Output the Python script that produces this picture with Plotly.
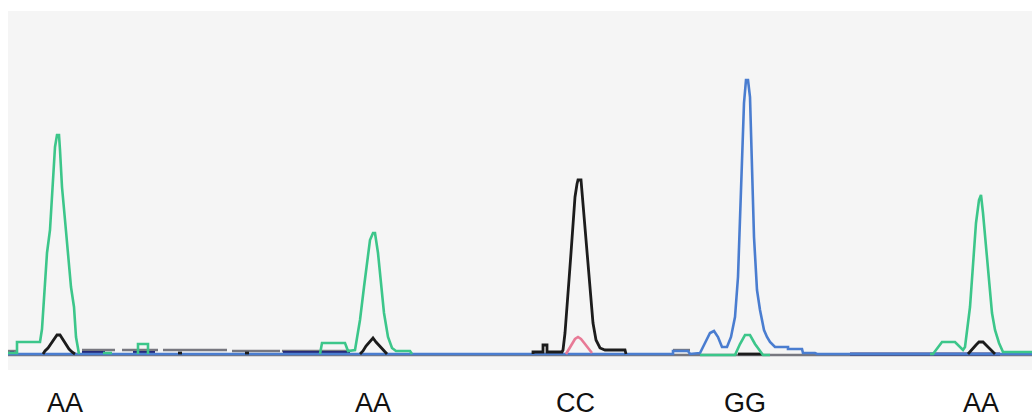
import plotly.graph_objects as go

# Scan positions (x) and signal heights (y)
green_x = [8, 17, 17, 40, 42, 45, 47, 50, 53, 55, 57, 59, 60, 62, 65, 68, 71, 74, 76, 79, None,
           103, 112, None,
           138, 138, 148, 148, None,
           320, 322, 345, 348, 355, 360, 364, 367, 370, 373, 375, 378, 381, 384, 388, 392, 396, 410, 412, None,
           700, 735, 740, 745, 750, 755, 763, 770, None,
           930, 933, 942, 955, 963, 965, 970, 973, 976, 979, 981, 983, 986, 989, 992, 995, 999, 1003, 1032]
green_y = [1, 1, 12, 12, 25, 70, 101, 124, 174, 207, 219, 219, 204, 167, 134, 104, 67, 47, 17, 0, None,
           1, 1, None,
           0, 10, 10, 0, None,
           0, 11, 11, 3, 4, 34, 67, 91, 114, 121, 121, 101, 67, 41, 17, 6, 3, 3, 0, None,
           -1, -1, 10, 19, 19, 10, -1, -1, None,
           0, 0, 12, 12, 4, 7, 47, 91, 131, 154, 159, 141, 107, 74, 41, 24, 11, 2, 2]

black_x = [43, 45, 48, 51, 54, 57, 60, 63, 66, 69, 72, 75, None,
           178, 182, None,
           245, 249, None,
           360, 363, 366, 370, 373, 376, 380, 384, 387, None,
           533, 533, 543, 543, 547, 547, 562, 563, 565, 567, 569, 571, 573, 575, 577, 578, 581, 583, 585,
           587, 589, 591, 593, 596, 600, 605, 625, 626, None,
           738, 762, None,
           968, 972, 976, 979, 983, 987, 991, 995]
black_y = [0, 3, 6, 10, 14, 19, 19, 14, 10, 5, 2, 0, None,
           1, 1, None,
           1, 1, None,
           0, 3, 8, 12, 16, 12, 8, 4, 0, None,
           0, 2, 2, 9, 9, 2, 2, 4, 21, 44, 74, 101, 131, 157, 170, 174, 174, 151, 127,
           104, 74, 51, 31, 14, 6, 4, 4, 0, None,
           0, 0, None,
           0, 5, 9, 12, 12, 8, 4, 0]

pink_x = [566, 569, 572, 575, 578, 581, 585, 589, 592]
pink_y = [0, 5, 10, 15, 17, 15, 10, 5, 1]

blue_x = [8, 673, 673, 688, 690, 700, 705, 710, 714, 718, 722, 727, 731, 735, 738, 740, 742, 744, 746, 748,
          750, 752, 754, 757, 760, 764, 767, 770, 775, 788, 788, 802, 803, 815, 817, 1032]
blue_y = [0, 0, 3, 3, 0, 1, 11, 21, 23, 17, 7, 7, 17, 37, 77, 134, 201, 251, 274, 274,
          257, 184, 117, 64, 44, 24, 17, 12, 7, 7, 5, 5, 1, 1, 0, 0]

gray_x = [8, 1032, None, 8, 17, None, 82, 115, None, 122, 158, None, 163, 227, None, 232, 280, None,
          282, 350, None, 673, 690]
gray_y = [-1, -1, None, 3, 3, None, 4, 4, None, 4, 4, None, 4, 4, None, 3, 3, None,
          3, 3, None, 4, 4]

navy_x = [10, 14, None, 82, 105, None, 133, 155, None, 283, 350, None, 850, 1000]
navy_y = [1, 1, None, 1.5, 1.5, None, 1.5, 1.5, None, 1.5, 1.5, None, 0, 0]

labels = ["AA", "AA", "CC", "GG", "AA"]
label_x = [65, 373, 575, 745, 981]

fig = go.Figure()
line_specs = [
    (gray_x, gray_y, "#77777f", 2.4),
    (navy_x, navy_y, "#262a78", 3),
    (blue_x, blue_y, "#4a7dd0", 2.6),
    (pink_x, pink_y, "#e87a96", 2.6),
    (black_x, black_y, "#1c1c1c", 2.8),
    (green_x, green_y, "#3cc68a", 2.6),
]
for xs, ys, col, w in line_specs:
    fig.add_trace(go.Scatter(x=xs, y=ys, mode="lines", line=dict(color=col, width=w),
                             connectgaps=False, hoverinfo="skip", showlegend=False))

for lab, lx in zip(labels, label_x):
    fig.add_annotation(x=lx, y=-(403 - 370) / 359.0, xref="x", yref="paper", yanchor="middle",
                       text=lab, showarrow=False,
                       font=dict(family="Liberation Sans, Arial, sans-serif", size=27, color="#111111"))

fig.update_layout(
    width=1032, height=418,
    margin=dict(l=8, r=0, t=11, b=48),
    paper_bgcolor="#ffffff",
    plot_bgcolor="#f5f5f5",
    xaxis=dict(range=[8, 1032], visible=False, fixedrange=True),
    yaxis=dict(range=[-16, 343], visible=False, fixedrange=True),
)

fig.write_html("out.html")
